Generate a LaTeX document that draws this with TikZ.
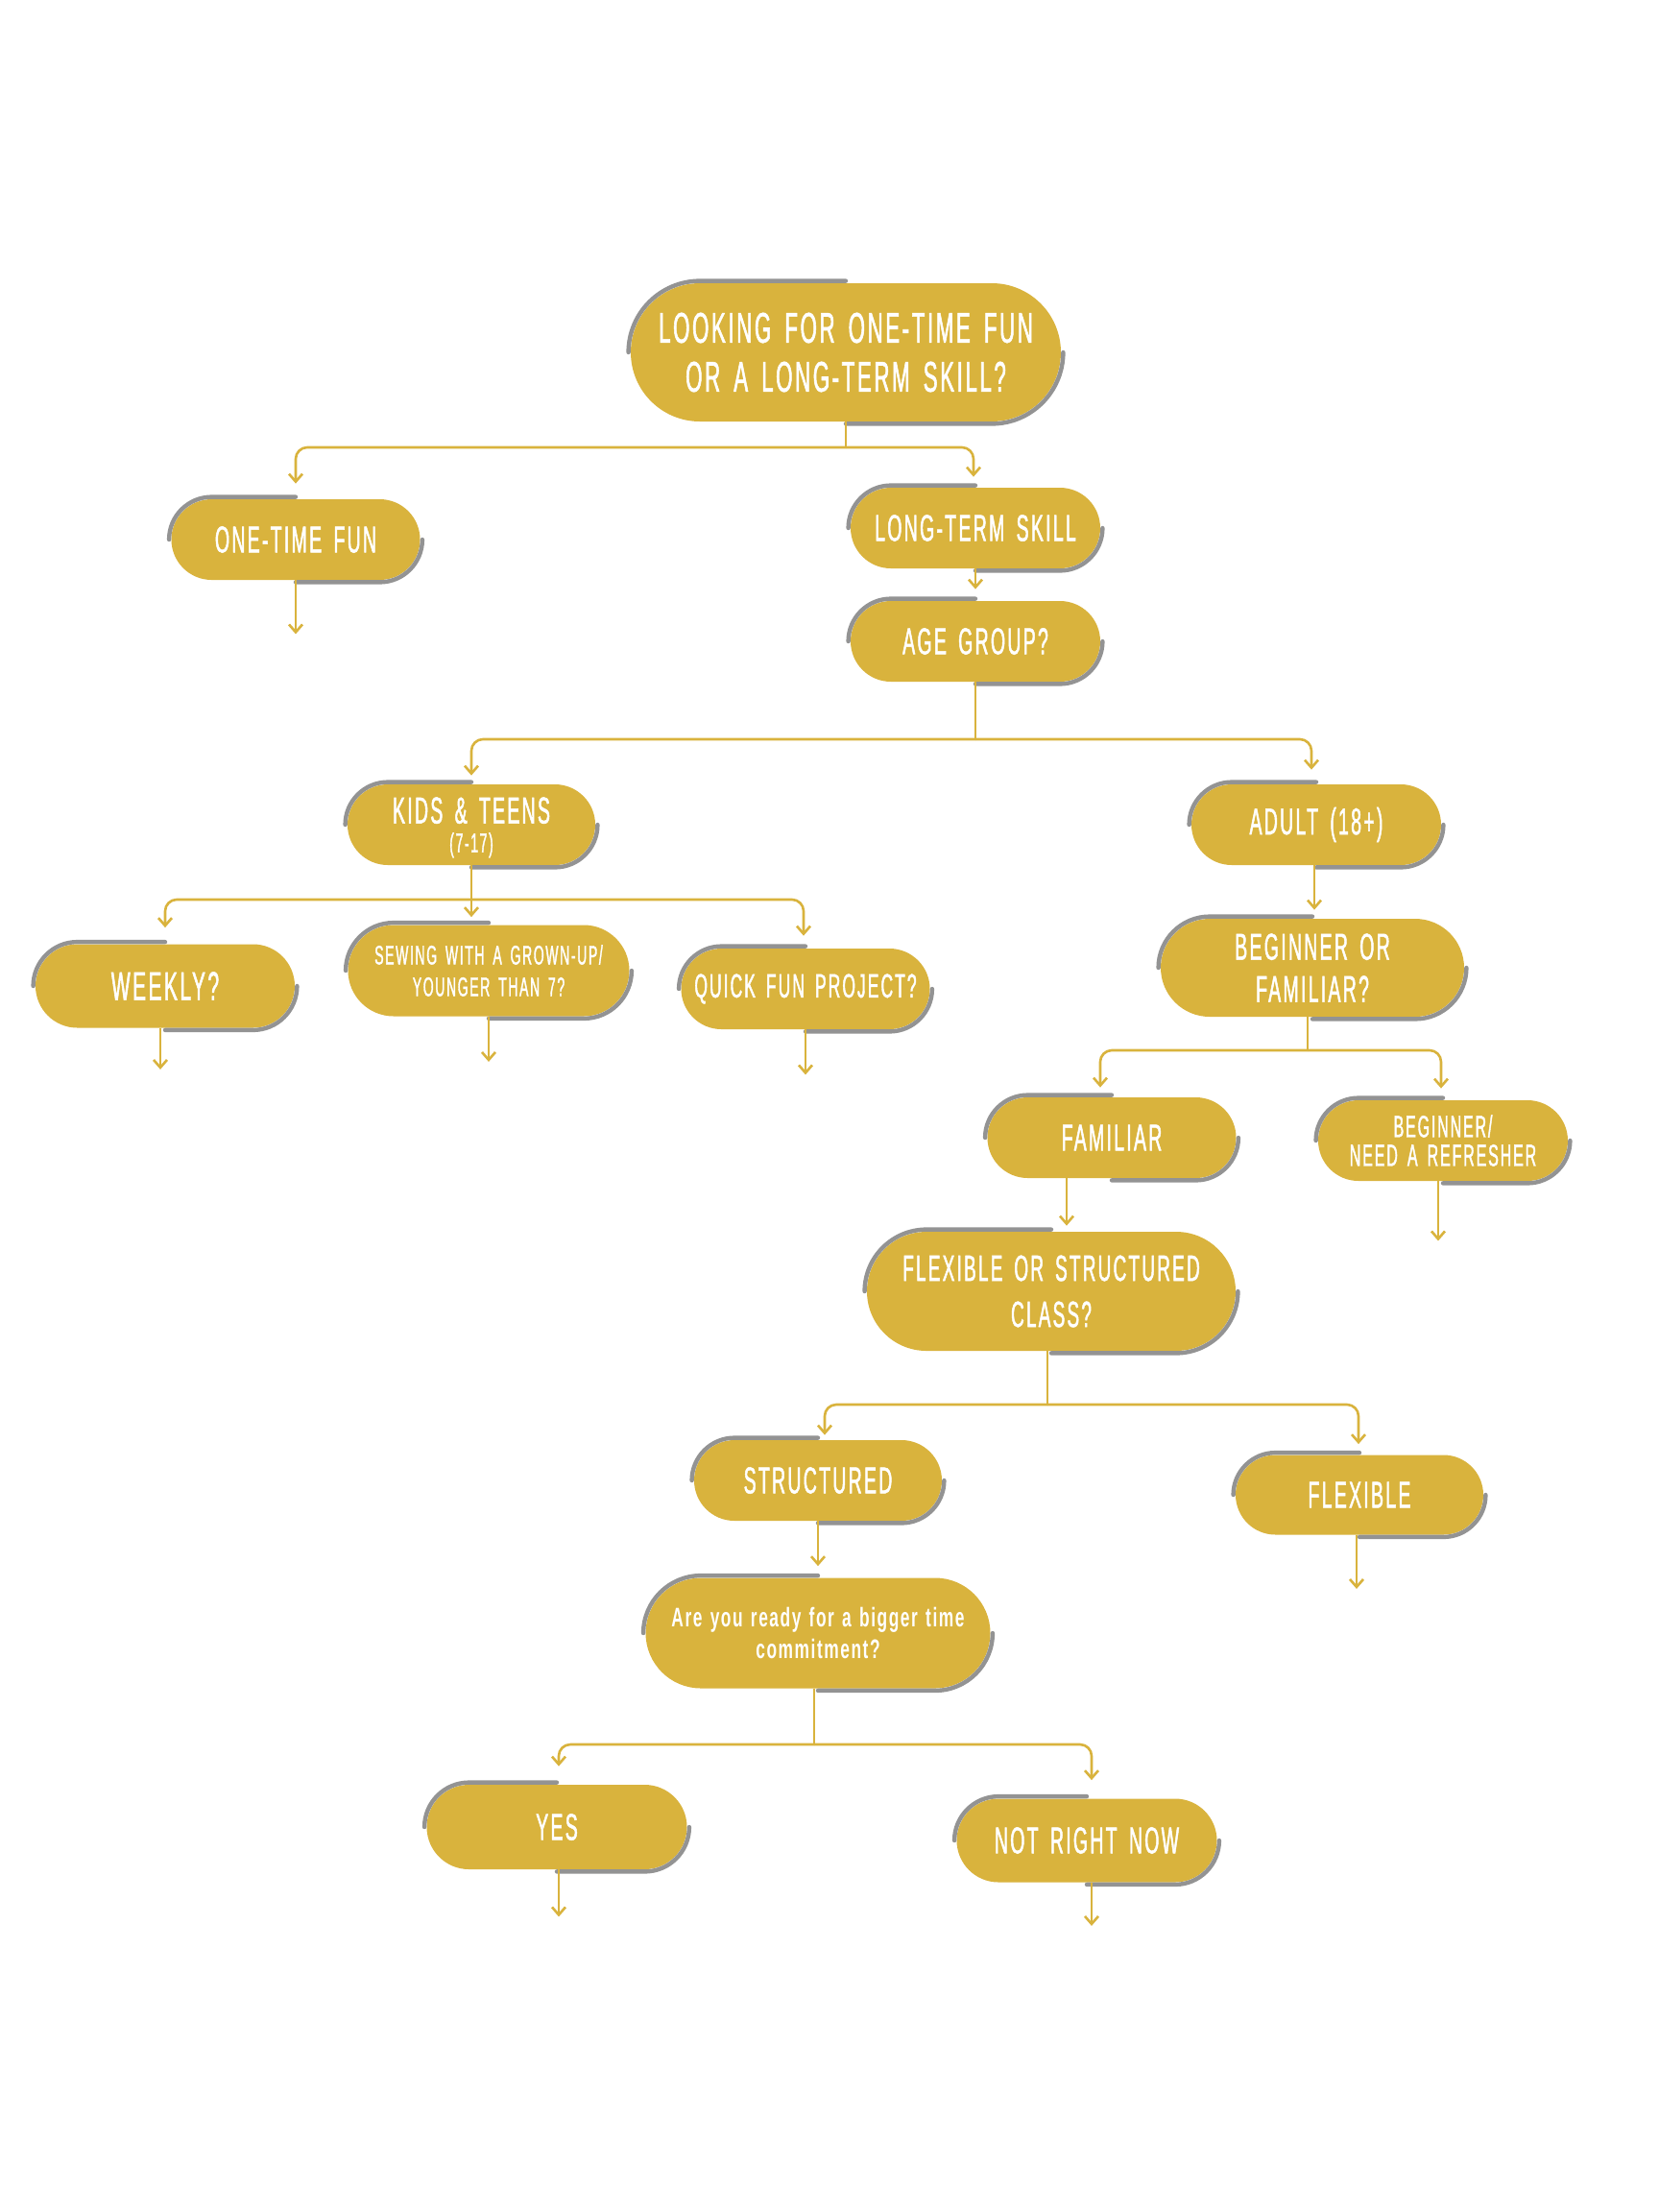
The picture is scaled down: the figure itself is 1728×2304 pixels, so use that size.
\documentclass[tikz,border=0pt]{standalone}
\usepackage{fontspec}
\setmainfont{Liberation Sans}
\newfontfamily\cond[FakeStretch=0.5,LetterSpace=5.8,WordSpace=1.6,FakeBold=1.2]{Liberation Sans}
\newfontfamily\condb[FakeStretch=0.62,LetterSpace=5.5,WordSpace=1.3]{Liberation Sans Bold}
\usetikzlibrary{arrows.meta,calc}
\definecolor{gold}{HTML}{D9B33D}
\definecolor{rimgray}{HTML}{939393}
\newcommand\rimarcs[1]{%
  \draw[rim] let \p1=(#1.north), \p2=(#1.south), \p3=(#1.west), \p4=(#1.east),
    \n1={(\y1-\y2)/2}, \n2={(\y1-\y2)/2+1pt} in
    (\x3-1pt,\y3) arc[start angle=180, end angle=90, radius=\n2] -- (\x1,\y1+1pt)
    (\x2,\y2-1pt) -- (\x4-\n1,\y2-1pt) arc[start angle=270, end angle=360, radius=\n2];
}
\begin{document}
\begin{tikzpicture}[x=0.5pt,y=-0.5pt,
  pill/.style 2 args={rectangle, fill=gold, text=white, inner sep=0pt, align=center,
    minimum width=#1, minimum height=#2, rounded corners=#2/2},
  rim/.style={draw=rimgray, line width=2.2pt, line cap=round},
  link/.style={draw=gold, line width=1.3pt},
  arr/.style={link, -{Straight Barb[length=4pt,width=7pt]}, rounded corners=6pt},
  big/.style={font=\cond\fontsize{19.5}{22}\selectfont}
]
\fill[white] (0,0) rectangle (1728,2304);
\useasboundingbox (0,0) rectangle (1728,2304);

% nodes
\node[pill={224pt}{72pt}, font=\cond\fontsize{22.3}{25.5}\selectfont] (root) at (881,367)
  {LOOKING FOR ONE-TIME FUN\\OR A LONG-TERM SKILL?};
\node[pill={129.5pt}{42pt}, big] (otf) at (308,562) {ONE-TIME FUN};
\node[pill={130pt}{42pt}, big] (lts) at (1016,550) {LONG-TERM SKILL};
\node[pill={130pt}{42pt}, big] (age) at (1016,668) {AGE GROUP?};
\node[pill={129pt}{42pt}, font=\cond\fontsize{19.5}{15}\selectfont] (kids) at (491,859)
  {KIDS \& TEENS\\{\fontsize{14}{15}\selectfont\smash{(7-17)}}};
\node[pill={135pt}{43.5pt}, font=\cond\fontsize{21}{24}\selectfont] (weekly) at (172,1027) {WEEKLY?};
\node[pill={146.5pt}{47.5pt}, font=\cond\fontsize{14}{16.5}\selectfont] (sew) at (509,1011)
  {SEWING WITH A GROWN-UP/\\YOUNGER THAN 7?};
\node[pill={129.5pt}{42pt}, font=\cond\fontsize{17.5}{20}\selectfont] (quick) at (839,1030) {QUICK FUN PROJECT?};
\node[pill={130pt}{42pt}, big] (adult) at (1371,859) {ADULT (18+)};
\node[pill={158pt}{51pt}, font=\cond\fontsize{19.5}{22}\selectfont] (bof) at (1367,1008)
  {BEGINNER OR\\FAMILIAR?};
\node[pill={129.5pt}{42pt}, big] (fam) at (1158,1185) {FAMILIAR};
\node[pill={130pt}{42pt}, font=\cond\fontsize{16}{15}\selectfont] (beg) at (1503,1188)
  {BEGINNER/\\NEED A REFRESHER};
\node[pill={192pt}{62pt}, font=\cond\fontsize{19}{24}\selectfont] (flex) at (1095,1345)
  {FLEXIBLE OR STRUCTURED\\CLASS?};
\node[pill={129pt}{42pt}, big] (struct) at (852,1542) {STRUCTURED};
\node[pill={129pt}{41.5pt}, big] (flx) at (1416,1557) {FLEXIBLE};
\node[pill={179.5pt}{57.5pt}, font=\condb\fontsize{14}{16.5}\selectfont] (ready) at (852,1701)
  {Are you ready for a bigger time\\commitment?};
\node[pill={135.5pt}{44pt}, big] (yes) at (580,1903) {YES};
\node[pill={135.5pt}{43.5pt}, big] (notnow) at (1132,1917) {NOT RIGHT NOW};

% gray rims
\foreach \nm in {root,otf,lts,age,kids,weekly,sew,quick,adult,bof,fam,beg,flex,struct,flx,ready,yes,notnow}
  {\rimarcs{\nm}}

% connectors
\coordinate (j-root) at (881,466);
\draw[link] (root.south) -- (j-root);
\draw[arr] (j-root) -| ([yshift=8pt]otf.north);
\draw[arr] (j-root) -| ([xshift=-1pt,yshift=5.5pt]lts.north);
\draw[arr] (otf.south) -- ++(0,56);

\draw[arr] (lts.south) -- ([yshift=6pt]age.north);

\coordinate (j-age) at (1016,770);
\draw[link] (age.south) -- (j-age);
\draw[arr] (j-age) -| ([yshift=4.5pt]kids.north);
\draw[arr] (j-age) -| ([xshift=-2.5pt,yshift=7.5pt]adult.north);

\coordinate (j-kids) at (491,937);
\draw[link] (kids.south) -- (j-kids);
\draw[arr] (j-kids) -| ([yshift=8.5pt]weekly.north);
\draw[arr] (j-kids) -- ([yshift=4pt]j-kids |- sew.north);
\draw[arr] (j-kids) -| ([xshift=-1pt,yshift=6.5pt]quick.north);
\draw[arr] ([xshift=-2.5pt]weekly.south) -- ++(0,43);
\draw[arr] (sew.south) -- ++(0,47);
\draw[arr] (quick.south) -- ++(0,47);

\draw[arr] ([xshift=-1pt]adult.south) -- ([xshift=-1pt,yshift=4.5pt]adult.south |- bof.north);

\coordinate (j-bof) at (1362,1094);
\draw[link] ([xshift=-2.5pt]bof.south) -- (j-bof);
\draw[arr] (j-bof) -| ([xshift=-6pt,yshift=5pt]fam.north);
\draw[arr] (j-bof) -| ([xshift=-1pt,yshift=6pt]beg.north);
\draw[arr] ([xshift=-2.5pt]beg.south) -- ++(0,62);
\draw[arr] ([xshift=-23.5pt]fam.south) -- ([xshift=-23.5pt,yshift=3pt]fam.south |- flex.north);

\coordinate (j-flex) at (1091,1463);
\draw[link] ([xshift=-2pt]flex.south) -- (j-flex);
\draw[arr] (j-flex) -| ([xshift=3.5pt,yshift=2.5pt]struct.north);
\draw[arr] (j-flex) -| ([xshift=-0.5pt,yshift=5.5pt]flx.north);
\draw[arr] ([xshift=-1.5pt]flx.south) -- ++(0,56);

\draw[arr] (struct.south) -- ([yshift=6pt]ready.north);

\coordinate (j-ready) at (848,1817);
\draw[link] ([xshift=-2pt]ready.south) -- (j-ready);
\draw[arr] (j-ready) -| ([xshift=1pt,yshift=9.5pt]yes.north);
\draw[arr] (j-ready) -| ([xshift=2.5pt,yshift=9.5pt]notnow.north);
\draw[arr] ([xshift=1pt]yes.south) -- ++(0,49);
\draw[arr] ([xshift=2.5pt]notnow.south) -- ++(0,45);
\end{tikzpicture}
\end{document}
